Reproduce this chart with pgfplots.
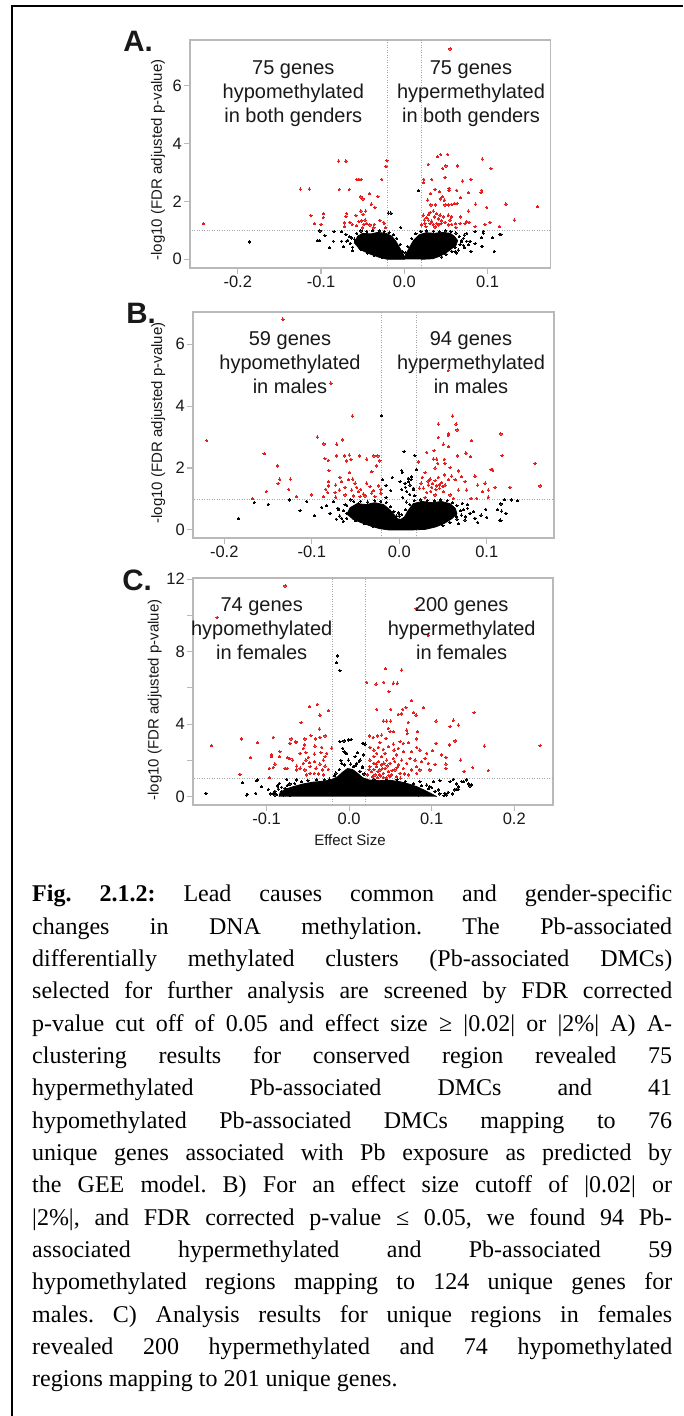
\documentclass[border=0pt]{standalone}
\usepackage{fontspec}
\setmainfont{Liberation Serif}
\newfontfamily\arial{Liberation Sans}
\usepackage{pgfplots}
\pgfplotsset{compat=1.18}
\definecolor{framec}{RGB}{185,185,185}
\definecolor{linec}{RGB}{165,165,165}
\definecolor{ptred}{RGB}{230,30,30}
\definecolor{txt}{RGB}{25,25,25}
\pgfplotsset{
 volc/.style={
  scale only axis, anchor=south west,
  axis line style={framec, line width=1.3pt},
  tick align=outside, tick pos=left,
  major tick length=6pt,
  every tick/.style={framec, line width=1.1pt},
  tick label style={font=\arial\fontsize{16.5}{16.5}\selectfont, text=txt, inner sep=2pt},
  ylabel={-log10 (FDR adjusted p-value)},
  clip=true,
 },
 redpts/.style={only marks, mark=*, color=ptred, mark size=1.2pt, mark options={fill=ptred, draw=ptred, line width=0pt}},
 blkpts/.style={only marks, mark=*, color=black, mark size=1.1pt, mark options={fill=black, draw=black, line width=0pt}},
 core/.style={fill=black, draw=black, line width=0.8pt, mark=none},
 thr/.style={linec, line width=0.8pt, dash pattern=on 1pt off 1.5pt, mark=none},
}
\begin{document}
\begin{tikzpicture}
\useasboundingbox (0pt,0pt) rectangle (683pt,1416pt);
\fill[white] (0pt,0pt) rectangle (683pt,1416pt);
\draw[line width=2.2pt, black] (11.7pt,0pt) -- (11.7pt,1410pt) -- (683pt,1410pt);

% ---------------- Panel A ----------------
\begin{axis}[volc, at={(190pt,1148pt)}, width=360.7pt, height=228pt,
  xmin=-0.2573, xmax=0.1758, ymin=-0.30, ymax=7.59,
  xtick={-0.2,-0.1,0,0.1}, xticklabels={-0.2,-0.1,0.0,0.1},
  ytick={0,2,4,6}, yticklabels={0,2,4,6},
  every axis y label/.style={at={(axis description cs:-0.0887,0.474)}, anchor=center, rotate=90, font=\arial\fontsize{15}{15}\selectfont, text=txt}]
\addplot[thr] coordinates {(-0.02,-1) (-0.02,9)};
\addplot[thr] coordinates {(0.02,-1) (0.02,9)};
\addplot[thr] coordinates {(-0.3,1) (0.3,1)};
\addplot[core] coordinates {(-0.060,0.55) (-0.056,0.80) (-0.050,0.90) (-0.040,0.88) (-0.032,0.93) (-0.022,0.90) (-0.015,0.80) (-0.010,0.62) (-0.006,0.42) (-0.002,0.22) (0.001,0.06) (0.0,0.0) (-0.020,0.0) (-0.030,0.07) (-0.040,0.17) (-0.048,0.27) (-0.055,0.38)};
\addplot[core] coordinates {(0.0,0.0) (0.002,0.17) (0.006,0.40) (0.011,0.65) (0.018,0.85) (0.026,0.92) (0.036,0.90) (0.046,0.93) (0.055,0.90) (0.060,0.80) (0.064,0.65) (0.062,0.48) (0.056,0.35) (0.050,0.22) (0.042,0.10) (0.034,0.02) (0.02,0.0)};
\addplot[blkpts] coordinates {
(-0.186,0.60) (-0.104,0.64) (-0.1023,0.64) (-0.0900,0.40) (-0.0844,0.96) (-0.1013,0.98) (-0.0953,0.82) (-0.0752,0.96) (-0.0853,0.63) (-0.0752,0.63) (-0.070,0.86) (-0.0732,0.44) (-0.0631,0.74) (-0.0692,0.63) (-0.0619,0.30) (-0.0044,1.10) (-0.0192,1.60) (-0.016,1.60) (0.0168,2.37)
(0.0948,0.96) (0.116,0.86) (0.108,0.28) (0.0936,0.44) (0.080,0.28) (0.0849,0.54) (0.0789,0.63) (0.0929,0.75) (0.106,0.75) (0.0708,0.49) (0.0749,0.63) (0.0689,0.61) (0.072,0.84) (0.0648,0.32) (0.0609,0.26) (0.085,0.96) (0.1149,0.87) (0.095,0.90) (0.093,0.44)
(-0.060,0.70) (-0.057,0.90) (-0.052,0.98) (-0.045,0.96) (-0.038,0.99) (-0.030,0.98) (-0.024,0.97) (-0.018,0.93) (-0.013,0.85) (-0.009,0.72) (-0.005,0.52) (-0.065,0.55) (-0.062,0.42) (-0.052,0.33) (-0.044,0.22) (-0.036,0.13) (-0.027,0.06) (-0.066,0.78) (-0.068,0.66) (-0.058,0.60)
(0.004,0.45) (0.009,0.72) (0.014,0.88) (0.020,0.96) (0.027,0.98) (0.035,0.97) (0.042,0.96) (0.049,0.98) (0.056,0.96) (0.062,0.91) (0.066,0.80) (0.069,0.66) (0.067,0.52) (0.061,0.42) (0.057,0.28) (0.050,0.18) (0.045,0.08) (0.071,0.73) (0.075,0.90) (0.077,0.50) (0.002,0.22) (-0.002,0.27) (0.072,0.40) (0.063,0.22)};
\addplot[redpts] coordinates {
(-0.241,1.23) (-0.0788,3.40) (-0.070,3.40) (-0.021,3.42) (-0.022,3.22) (-0.0571,2.77) (-0.0544,2.77) (-0.0516,2.77) (-0.0271,2.77) (-0.1248,2.43) (-0.114,2.43) (-0.078,2.42) (-0.066,2.42) (-0.052,2.16) (-0.042,2.27) (-0.0496,2.09) (-0.0316,2.17) (-0.0396,1.91) (-0.0352,1.79) (-0.1121,1.52) (-0.0972,1.58) (-0.0972,1.45) (-0.108,1.24) (-0.100,1.21) (-0.0692,1.59) (-0.070,1.48) (-0.058,1.51) (-0.052,1.67) (-0.0494,1.56) (-0.0464,1.67) (-0.072,1.26) (-0.072,1.13) (-0.0652,1.28) (-0.0624,1.21) (-0.0571,1.16) (-0.0544,1.30) (-0.0512,1.33) (-0.0484,1.21) (-0.0499,1.09) (-0.0451,1.24) (-0.0412,1.19) (-0.036,1.21) (-0.0292,1.35) (-0.0247,1.28) (-0.0223,1.10) (-0.024,1.24) (-0.0364,1.09) (-0.047,1.36)
(0.055,7.28) (0.0401,3.55) (0.0437,3.63) (0.0521,3.63) (0.0288,3.29) (0.0461,3.15) (0.050,3.23) (0.0636,3.23) (0.0936,3.47) (0.104,3.14) (0.0489,2.84) (0.0233,2.77) (0.0233,2.65) (0.0329,2.77) (0.0701,2.71) (0.080,2.77) (0.0537,2.46) (0.0537,2.38) (0.0369,2.42) (0.0317,2.27) (0.0281,2.05) (0.042,2.34) (0.0461,2.17) (0.0437,2.09) (0.048,2.05) (0.0629,2.39) (0.0768,2.31) (0.0929,2.39) (0.0921,2.31) (0.0672,2.13) (0.032,1.88) (0.0377,1.88) (0.0489,1.88) (0.0528,1.88) (0.0569,1.90) (0.060,1.93) (0.0633,1.93) (0.0857,1.91) (0.1221,1.91) (0.1597,1.82) (0.0348,1.67) (0.0389,1.58) (0.0429,1.53) (0.036,1.47) (0.0468,1.47) (0.0528,1.53) (0.0569,1.47) (0.0677,1.47) (0.0768,1.67)
(0.0228,1.53) (0.0269,1.44) (0.0288,1.36) (0.0329,1.32) (0.0309,1.24) (0.0248,1.24) (0.0209,1.19) (0.026,1.13) (0.0348,1.21) (0.0389,1.24) (0.0408,1.19) (0.0441,1.24) (0.0489,1.28) (0.0528,1.19) (0.0569,1.21) (0.0617,1.24) (0.0669,1.24) (0.0729,1.24) (0.0777,1.28) (0.0288,1.55) (0.024,1.36) (0.0969,1.21) (0.1029,1.28) (0.114,1.13) (0.132,1.36) (0.099,1.80)
(0.031,1.62) (0.041,1.40) (0.045,1.33) (0.055,1.36) (0.037,1.12) (0.062,1.10) (0.085,1.13) (0.0749,1.30)};
\end{axis}

% ---------------- Panel B ----------------
\begin{axis}[volc, at={(193pt,878pt)}, width=361pt, height=226pt,
  xmin=-0.2357, xmax=0.1769, ymin=-0.26, ymax=7.04,
  xtick={-0.2,-0.1,0,0.1}, xticklabels={-0.2,-0.1,0.0,0.1},
  ytick={0,2,4,6}, yticklabels={0,2,4,6},
  every axis y label/.style={at={(axis description cs:-0.096,0.509)}, anchor=center, rotate=90, font=\arial\fontsize{15}{15}\selectfont, text=txt}]
\addplot[thr] coordinates {(-0.02,-1) (-0.02,9)};
\addplot[thr] coordinates {(0.02,-1) (0.02,9)};
\addplot[thr] coordinates {(-0.3,1) (0.3,1)};
\addplot[core] coordinates {(-0.060,0.50) (-0.056,0.72) (-0.048,0.85) (-0.038,0.82) (-0.028,0.88) (-0.018,0.82) (-0.011,0.66) (-0.006,0.50) (-0.002,0.36) (0.002,0.34) (0.006,0.42) (0.010,0.62) (0.016,0.85) (0.026,0.92) (0.038,0.88) (0.048,0.92) (0.058,0.85) (0.064,0.70) (0.066,0.52) (0.060,0.36) (0.052,0.22) (0.042,0.10) (0.030,0.02) (0.015,0.0) (-0.012,0.0) (-0.022,0.04) (-0.032,0.12) (-0.044,0.24) (-0.054,0.36)};
\addplot[blkpts] coordinates {
(-0.1839,0.36) (-0.1656,0.89) (-0.1496,0.83) (-0.1256,0.97) (-0.1134,0.62) (-0.1057,0.92) (-0.097,0.46) (-0.0886,0.73) (-0.0829,0.78) (-0.0791,0.54) (-0.0753,0.91) (-0.0696,0.65) (-0.0657,0.38) (-0.0619,0.81) (-0.060,0.54) (-0.0552,0.97) (-0.0524,0.70) (-0.0486,0.48) (-0.0467,0.86) (-0.041,0.65)
(-0.020,3.69) (-0.0189,1.62) (-0.0079,1.70) (-0.0151,1.44) (-0.0097,1.27) (-0.0151,1.05) (0.0055,2.53) (0.018,2.40) (0.003,1.92) (0.0143,1.72) (0.0195,1.94) (0.0105,1.56) (0.0035,1.86) (0.0104,1.67) (0.0135,1.62) (0.0066,1.51) (0.0123,1.45) (0.0029,1.31) (0.0086,1.24) (0.0161,1.35) (0.0009,1.56)
(0.1201,0.98) (0.1354,0.94) (0.1163,0.84) (0.1126,0.65) (0.1171,0.61) (0.1163,0.30) (0.1,0.41) (0.0989,0.67) (0.0935,0.48) (0.0866,0.38) (0.0897,0.24) (0.0847,0.59) (0.0783,0.81) (0.0809,0.54) (0.0733,0.65) (0.0752,0.32) (0.0657,0.43) (0.1152,0.32) (0.122,0.54) (0.1286,0.97)
(-0.064,0.62) (-0.060,0.80) (-0.052,0.92) (-0.044,0.93) (-0.036,0.90) (-0.028,0.95) (-0.021,0.93) (-0.015,0.88) (-0.010,0.75) (-0.006,0.60) (-0.003,0.45) (-0.068,0.45) (-0.060,0.38) (-0.050,0.30) (-0.040,0.20) (-0.030,0.10) (-0.064,0.28) (-0.072,0.35) (-0.070,0.70)
(0.003,0.50) (0.007,0.65) (0.012,0.82) (0.017,0.95) (0.024,0.97) (0.032,0.96) (0.040,0.94) (0.047,0.97) (0.055,0.95) (0.061,0.88) (0.066,0.78) (0.070,0.62) (0.071,0.48) (0.066,0.35) (0.058,0.24) (0.050,0.14) (0.072,0.86) (0.078,0.70) (0.076,0.42) (0.068,0.20) (0.008,0.90) (0.004,1.05) (0.012,1.15) (0.016,1.30) (0.007,1.38) (0.018,1.10) (0.0,0.45) (-0.001,0.55)};
\addplot[redpts] coordinates {
(-0.133,6.81) (-0.078,4.74) (-0.220,2.89) (-0.0536,3.68) (-0.1545,2.46) (-0.1393,2.07) (-0.0936,3.00) (-0.086,2.78) (-0.0714,2.77) (-0.0646,2.91) (-0.0849,2.30) (-0.0810,2.25) (-0.0714,2.39) (-0.0628,2.39) (-0.0571,2.42) (-0.0601,2.23) (-0.0552,2.28) (-0.0455,2.39) (-0.0371,2.29) (-0.0289,2.39) (-0.0243,2.39) (-0.0221,2.23) (-0.0259,2.07) (-0.0803,1.92) (-0.0571,1.85) (-0.0312,1.88) (-0.1366,1.64) (-0.1244,1.64) (-0.1385,1.50) (-0.1263,1.31) (-0.1520,1.24) (-0.1679,1.01) (-0.1176,1.08) (-0.1005,1.13)
(-0.0810,1.56) (-0.0810,1.42) (-0.0840,1.31) (-0.0726,1.45) (-0.0677,1.70) (-0.0657,1.56) (-0.0619,1.38) (-0.0582,1.62) (-0.0531,1.64) (-0.0505,1.51) (-0.0486,1.38) (-0.0467,1.24) (-0.0440,1.31) (-0.0410,1.16) (-0.0391,1.10) (-0.0334,1.40) (-0.0296,1.27) (-0.0277,1.08) (-0.0239,1.42) (-0.0208,1.31) (-0.021,1.19) (-0.0734,1.21) (-0.0619,1.13) (-0.0524,1.10) (-0.0448,1.08) (-0.0726,1.06) (-0.0867,1.08) (-0.0817,1.21) (-0.0684,1.29) (-0.0543,1.29) (-0.0372,1.51) (-0.0315,1.19)
(0.056,5.15) (0.0611,3.68) (0.0447,3.42) (0.0649,3.42) (0.0661,3.23) (0.0561,3.10) (0.0561,3.06) (0.0447,2.99) (0.1163,3.10) (0.0829,2.88) (0.0504,2.77) (0.0561,2.69) (0.0314,2.51) (0.0398,2.56) (0.0763,2.48) (0.0668,2.39) (0.0817,2.37) (0.1175,2.40) (0.039,2.29) (0.0429,2.29) (0.044,2.15) (0.0515,2.28) (0.0523,2.15) (0.0218,2.20) (0.0581,2.01) (0.1049,1.95) (0.1069,1.93) (0.1552,2.15) (0.0295,1.85) (0.0409,2.00) (0.0675,1.91)
(0.0516,1.78) (0.0447,1.70) (0.0352,1.64) (0.0409,1.59) (0.0486,1.53) (0.0333,1.45) (0.0371,1.38) (0.0429,1.42) (0.0459,1.35) (0.0524,1.45) (0.0561,1.62) (0.060,1.74) (0.0638,1.62) (0.0714,1.72) (0.0752,1.56) (0.0866,1.74) (0.0897,1.45) (0.095,1.24) (0.0981,1.51) (0.1018,1.29) (0.1095,1.38) (0.1266,1.38) (0.1609,1.42) (0.0771,1.29) (0.0675,1.29) (0.0276,1.35) (0.0249,1.51) (0.0314,1.21) (0.0409,1.13) (0.0504,1.24) (0.0581,1.13) (0.0619,1.02) (0.0821,1.02) (0.0886,1.02) (0.1018,1.06) (0.0295,1.05) (0.0264,1.70) (0.023,1.35)
(0.038,1.50) (0.046,1.47) (0.042,1.30) (0.036,1.25) (0.050,1.40) (0.033,1.58)};
\end{axis}

% ---------------- Panel C ----------------
\begin{axis}[volc, at={(193pt,611pt)}, width=360pt, height=227pt,
  xmin=-0.1893, xmax=0.247, ymin=-0.46, ymax=12.06,
  xtick={-0.1,0,0.1,0.2}, xticklabels={-0.1,0.0,0.1,0.2},
  ytick={0,2,4,6,8,10,12}, yticklabels={0,,4,,8,,12},
  xlabel={Effect Size},
  every axis x label/.style={at={(axis description cs:0.436,-0.154)}, anchor=center, font=\arial\fontsize{15}{15}\selectfont, text=txt},
  every axis y label/.style={at={(axis description cs:-0.106,0.463)}, anchor=center, rotate=90, font=\arial\fontsize{15}{15}\selectfont, text=txt}]
\addplot[thr] coordinates {(-0.02,-1) (-0.02,13)};
\addplot[thr] coordinates {(0.02,-1) (0.02,13)};
\addplot[thr] coordinates {(-0.3,1) (0.3,1)};
\addplot[core] coordinates {(-0.085,0.0) (-0.084,0.20) (-0.078,0.40) (-0.068,0.55) (-0.056,0.70) (-0.044,0.80) (-0.032,0.85) (-0.022,0.92) (-0.014,1.10) (-0.008,1.35) (-0.002,1.55) (0.004,1.50) (0.010,1.30) (0.016,1.05) (0.024,0.92) (0.036,0.88) (0.050,0.90) (0.062,0.82) (0.072,0.70) (0.082,0.55) (0.090,0.38) (0.097,0.22) (0.103,0.08) (0.106,0.0)};
\addplot[blkpts] coordinates {
(-0.1736,0.19) (-0.1291,0.77) (-0.1235,0.12) (-0.1109,0.92) (-0.1061,0.54) (-0.1133,0.19) (-0.1242,0.09) (-0.112,0.88) (-0.092,0.19) (-0.0867,0.59) (-0.0818,0.28) (-0.0847,0.74) (-0.0758,0.95) (-0.0778,0.46) (-0.0718,0.70) (-0.0677,0.37) (-0.0636,0.92) (-0.0596,0.19) (-0.0899,0.09) (-0.0799,0.09) (-0.0718,0.09)
(-0.0144,7.76) (-0.0152,7.39) (-0.0112,6.95) (-0.0112,3.03) (-0.0063,3.07) (0.0022,3.16) (-0.0079,2.67) (-0.0063,2.48) (-0.003,2.39) (-0.001,3.13) (0.0171,2.94) (0.0192,2.90) (-0.0039,2.39) (-0.001,2.02) (0.0171,2.30) (-0.0091,1.84) (0.005,1.65) (0.0164,2.94) (0.0099,2.43) (0.0071,2.21) (0.0131,2.02) (0.0091,1.84) (0.0164,1.65)
(0.102,0.83) (0.110,0.88) (0.1222,0.83) (0.1303,0.70) (0.1364,0.83) (0.1464,0.59) (0.0979,0.55) (0.108,0.37) (0.1161,0.19) (0.1182,0.09) (0.1295,0.41) (0.1323,0.55) (0.1444,0.70) (0.0656,0.70) (0.0737,0.55) (0.0818,0.37) (0.0898,0.28) (0.094,0.64) (0.0858,0.83) (0.0777,0.19) (0.0697,0.28) (0.0838,0.09) (0.128,0.37) (0.132,0.41) (0.1485,0.65) (0.1383,0.83) (0.1262,0.95) (0.1424,0.92)
(-0.090,0.30) (-0.088,0.12) (-0.086,0.42) (-0.082,0.52) (-0.075,0.62) (-0.066,0.72) (-0.058,0.82) (-0.050,0.90) (-0.040,0.93) (-0.030,0.95) (-0.024,0.97) (0.030,0.97) (0.045,0.96) (0.058,0.94) (0.068,0.85) (0.078,0.72) (0.088,0.60) (0.096,0.45) (0.104,0.30) (0.110,0.15) (0.115,0.05) (0.100,0.50) (-0.012,1.50) (-0.006,1.75) (0.002,1.80) (0.008,1.70) (0.013,1.40) (0.018,1.25) (-0.016,1.30) (-0.010,2.00) (0.012,1.95) (-0.018,1.15) (0.016,1.60) (-0.095,0.15) (-0.098,0.40) (0.120,0.25) (0.125,0.15)};
\addplot[redpts] coordinates {
(-0.0778,11.62) (-0.160,9.89) (-0.1667,2.81) (-0.1303,3.18) (-0.1194,2.15) (-0.1109,2.98) (-0.092,3.27) (-0.1324,1.23) (-0.0968,1.04) (-0.0939,2.30) (-0.0939,2.21) (-0.0839,2.48) (-0.075,2.15) (-0.0718,2.09) (-0.092,1.62) (-0.090,1.80) (-0.0968,1.56) (-0.0848,2.21) (-0.0778,1.56) (-0.0718,2.94) (-0.0705,3.18) (-0.0645,3.03) (-0.0584,4.08) (-0.0536,3.18) (-0.0544,2.85) (-0.0484,4.96) (-0.0387,5.09) (-0.0354,4.50) (-0.0253,4.74) (-0.0362,3.73) (-0.0463,3.36) (-0.0406,3.18) (-0.0354,3.27) (-0.0293,3.35) (-0.0645,2.98)
(-0.0556,2.67) (-0.0596,2.39) (-0.0524,2.43) (-0.0415,2.79) (-0.0423,2.35) (-0.0334,2.72) (-0.0293,2.21) (-0.0273,2.39) (-0.0212,2.68) (-0.0314,2.02) (-0.0354,1.80) (-0.0423,1.93) (-0.0475,1.65) (-0.0524,2.02) (-0.0556,1.84) (-0.0636,1.69) (-0.0636,1.47) (-0.0596,1.57) (-0.0536,1.47) (-0.0475,1.29) (-0.0515,1.20) (-0.0423,1.29) (-0.0374,1.25) (-0.0321,1.47) (-0.0293,1.69) (-0.0253,1.51) (-0.0314,1.20) (-0.0402,1.57) (-0.0483,1.87) (-0.0342,2.43) (-0.0495,2.17) (-0.0685,2.02) (-0.075,1.56)
(0.081,10.38) (0.096,8.90) (0.0438,7.06) (0.0636,6.98) (0.0212,6.31) (0.0325,6.21) (0.0418,6.31) (0.0535,6.26) (0.0583,6.26) (0.0482,5.79) (0.0757,5.29) (0.0333,4.82) (0.0503,4.82) (0.0648,4.82) (0.0688,4.92) (0.0898,4.91) (0.0595,4.54) (0.0636,4.56) (0.0777,4.63) (0.0810,4.50) (0.1513,4.63) (0.0414,4.17) (0.0454,4.17) (0.0503,4.17) (0.0717,4.10) (0.1052,4.17) (0.1262,4.22) (0.1222,3.86) (0.1323,3.95) (0.0474,3.77) (0.0495,3.58) (0.0535,3.58) (0.0697,3.67) (0.0705,3.49) (0.0830,3.58) (0.0244,3.35) (0.0292,3.27) (0.0341,3.35) (0.0394,3.40) (0.0446,3.22) (0.0818,3.18) (0.1283,3.07) (0.0373,2.98) (0.0535,2.90) (0.0616,3.03) (0.0656,2.94) (0.0717,2.98) (0.0818,2.72) (0.1052,2.94) (0.1214,2.85) (0.1638,2.79) (0.2313,2.81)
(0.0252,2.72) (0.030,2.57) (0.0353,2.72) (0.0414,2.61) (0.0474,2.76) (0.0543,2.57) (0.0595,2.67) (0.0656,2.48) (0.0757,2.48) (0.0858,2.57) (0.094,2.39) (0.1012,2.54) (0.1121,2.30) (0.1173,2.17) (0.1351,2.02) (0.1173,1.80) (0.1173,1.56) (0.1497,1.61) (0.1392,1.40) (0.1687,1.45) (0.1040,1.78)
(0.0252,2.02) (0.030,1.84) (0.0333,1.65) (0.0373,1.47) (0.0414,1.29) (0.0272,1.38) (0.0313,1.20) (0.0353,1.93) (0.0394,1.75) (0.0434,1.56) (0.0474,1.38) (0.0515,1.20) (0.0555,1.47) (0.0595,1.75) (0.0636,2.02) (0.0616,1.29) (0.0455,2.02) (0.0495,1.84) (0.0535,2.11) (0.0576,2.30) (0.0394,2.21) (0.0434,2.39) (0.030,2.21) (0.0333,2.39) (0.0252,1.65) (0.0365,1.20) (0.0414,1.07) (0.0495,1.10) (0.0576,1.10) (0.0656,1.56) (0.0697,1.84) (0.0737,2.11) (0.0798,2.02) (0.0818,1.65) (0.0879,1.93) (0.0919,2.11) (0.0959,1.84) (0.0818,1.29) (0.0757,1.47) (0.0717,1.20) (0.0858,1.47) (0.0979,1.47)
(0.028,1.10) (0.034,1.05) (0.040,1.55) (0.046,1.70) (0.052,1.45) (0.058,1.60) (0.035,1.40) (0.042,1.85) (0.030,1.50) (0.055,1.95) (0.022,1.20) (0.024,1.50) (0.048,1.18) (0.062,1.02) (0.067,1.25) (0.045,1.05) (0.038,1.15) (0.033,1.80)};
\end{axis}

% panel letters and annotations
\begin{scope}[every node/.style={font=\arial\bfseries\fontsize{29.5}{30}\selectfont, text=txt, inner sep=0pt}]
\node at (138pt,1375pt) {A.};
\node at (141pt,1103pt) {B.};
\node at (137pt,836pt) {C.};
\end{scope}
\begin{scope}[every node/.style={font=\arial\fontsize{20}{24}\selectfont, text=txt, align=center, inner sep=0pt}]
\node at (293.3pt,1322pt) {75 genes\\hypomethylated\\in both genders};
\node at (471pt,1322pt) {75 genes\\hypermethylated\\in both genders};
\node at (290pt,1053pt) {59 genes\\hypomethylated\\in males};
\node at (471pt,1053pt) {94 genes\\hypermethylated\\in males};
\node at (261.7pt,787.7pt) {74 genes\\hypomethylated\\in females};
\node at (461.7pt,787.7pt) {200 genes\\hypermethylated\\in females};
\end{scope}

% caption
\node[anchor=base west, inner sep=0pt, text width=640pt, align=justify, text=black,
      font=\fontsize{24}{32.35}\selectfont] at (32pt,514.3pt)
{\frenchspacing\tolerance=10000\hbadness=10000\hyphenpenalty=10000\noindent
\textbf{Fig. 2.1.2:} Lead causes common and gender-specific\linebreak
changes in DNA methylation. The Pb-associated\linebreak
differentially methylated clusters (Pb-associated DMCs)\linebreak
selected for further analysis are screened by FDR corrected\linebreak
p-value cut off of 0.05 and effect size ≥ |0.02| or |2\%| A) A-\linebreak
clustering results for conserved region revealed 75\linebreak
hypermethylated Pb-associated DMCs and 41\linebreak
hypomethylated Pb-associated DMCs mapping to 76\linebreak
unique genes associated with Pb exposure as predicted by\linebreak
the GEE model. B) For an effect size cutoff of |0.02| or\linebreak
|2\%|, and FDR corrected p-value ≤ 0.05, we found 94 Pb-\linebreak
associated hypermethylated and Pb-associated 59\linebreak
hypomethylated regions mapping to 124 unique genes for\linebreak
males. C) Analysis results for unique regions in females\linebreak
revealed 200 hypermethylated and 74 hypomethylated\linebreak
regions mapping to 201 unique genes.\par};
\end{tikzpicture}
\end{document}
